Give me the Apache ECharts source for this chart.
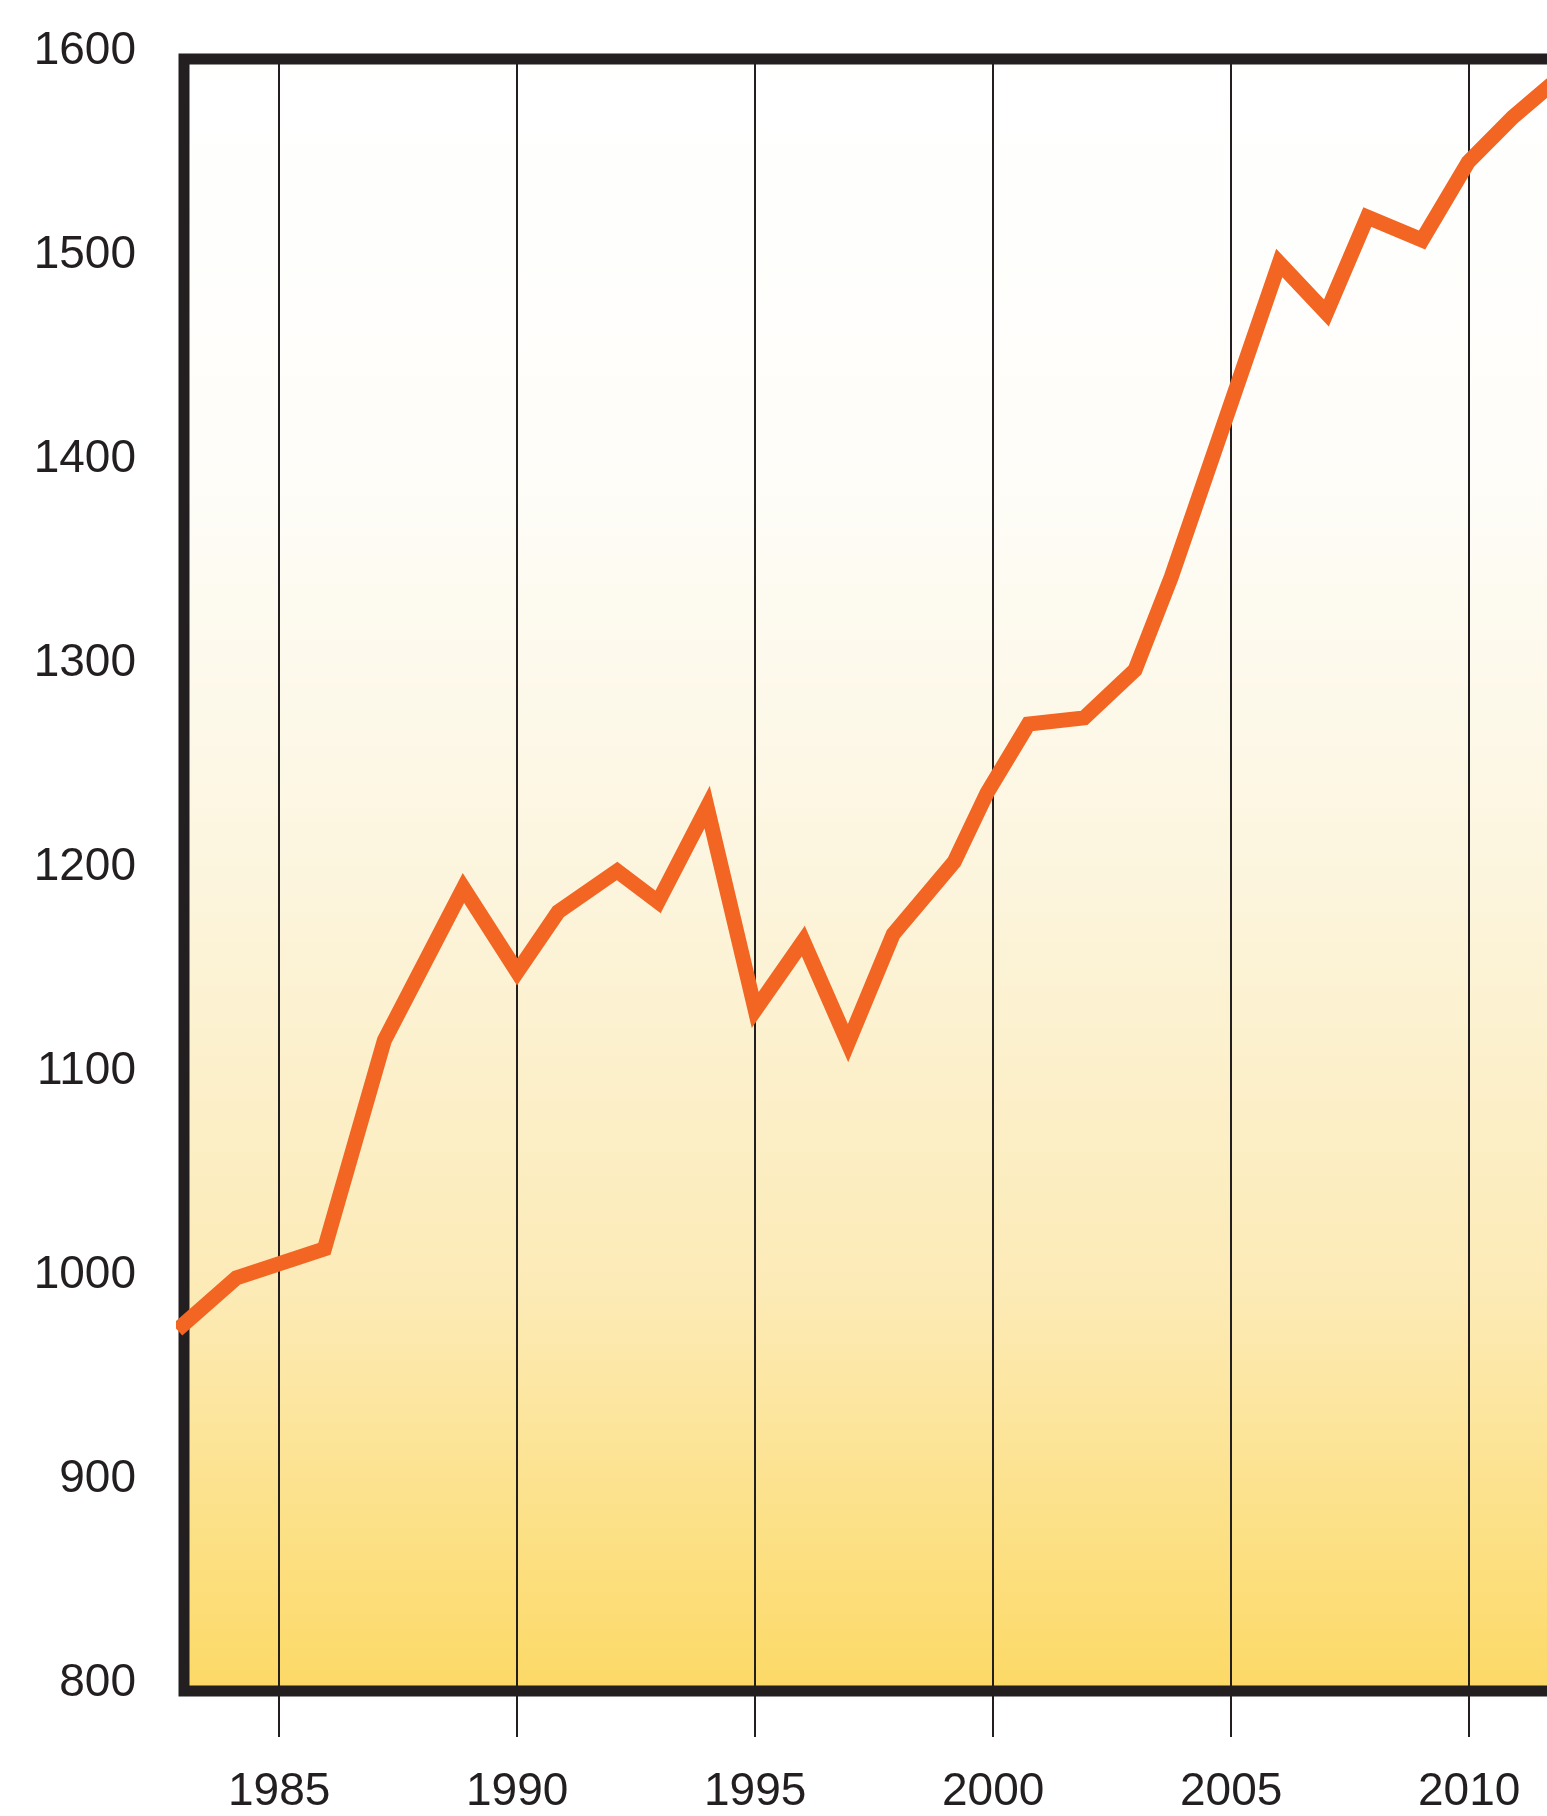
<!DOCTYPE html>
<html>
<head>
<meta charset="utf-8">
<script src="https://cdn.jsdelivr.net/npm/echarts@6/dist/echarts.min.js"></script>
<style>
  html, body { margin: 0; padding: 0; background: #ffffff; overflow: hidden; }
  #chart-c { width: 1700px; height: 1816px; }
</style>
</head>
<body>
<div id="chart-c"></div>
<script>
// years (vertex positions), and values
var years = [1982.86, 1984.1, 1985.95, 1987.21, 1988.87, 1990.0, 1990.86, 1992.1, 1992.96, 1993.99,
             1995.0, 1996.01, 1996.95, 1997.9, 1999.18, 1999.87, 2000.74, 2001.91, 2002.98, 2003.74,
             2006.01, 2007.0, 2007.86, 2009.01, 2009.98, 2010.92, 2012.0];
var values = [977, 1002.5, 1016.7, 1119, 1193.6, 1152.5, 1181.9, 1202, 1186.8, 1233.3,
              1133.8, 1167.6, 1117.6, 1171, 1206.4, 1240.2, 1274, 1277, 1300.5, 1346,
              1500, 1475.5, 1522.5, 1511.3, 1549.5, 1571.6, 1593];
var xTicks = [1985, 1990, 1995, 2000, 2005, 2010];
var yMin = 800, yMax = 1600, yStep = 100;

var dark = '#231f20';
var font = '"Liberation Sans", Arial, Helvetica, sans-serif';

function plain(v) {
    return String(v);
}

// y labels sit a little above their value, so add a short empty line under them
function yLabel(v) {
    return '{n|' + v + '}\n{s| }';
}

function makeChart(c) {
    var points = years.map(function (y, i) { return [y, values[i]]; });

    var option = {
        animation: false,
        grid: {
            show: true,
            left: 184,
            right: 88,
            top: 59,
            bottom: 125,
            borderColor: dark,
            borderWidth: 11,
            backgroundColor: {
                type: 'linear', x: 0, y: 0, x2: 0, y2: 1,
                colorStops: [
                    { offset: 0, color: '#ffffff' },
                    { offset: 0.25, color: '#fefdf9' },
                    { offset: 0.5, color: '#fcf5de' },
                    { offset: 0.75, color: '#fcebb7' },
                    { offset: 1, color: '#fcd965' }
                ]
            }
        },
        xAxis: {
            type: 'value',
            min: 1983,
            max: 2013,
            interval: 5,
            axisLine: { show: false },
            axisTick: {
                show: true,
                customValues: xTicks,
                length: 46,
                lineStyle: { color: dark, width: 2 }
            },
            splitLine: { show: true, lineStyle: { color: dark, width: 2 } },
            axisLabel: {
                customValues: xTicks,
                formatter: plain,
                margin: 78,
                fontSize: 46,
                fontFamily: font,
                color: dark
            }
        },
        yAxis: {
            type: 'value',
            min: yMin,
            max: yMax,
            interval: yStep,
            axisLine: { show: false },
            axisTick: { show: false },
            splitLine: { show: false },
            axisLabel: {
                formatter: yLabel,
                margin: 48,
                color: dark,
                rich: {
                    n: { fontSize: 46, lineHeight: 46, fontFamily: font, color: dark },
                    s: { fontSize: 10, lineHeight: 16 }
                }
            }
        },
        series: [{
            type: 'line',
            data: points,
            symbol: 'none',
            clip: false,
            lineStyle: {
                color: '#f26522',
                width: 15,
                join: 'miter',
                cap: 'butt'
            }
        }]
    };

    var myChart = echarts.init(c);
    myChart.setOption(option);
}

makeChart(document.getElementById('chart-c'));
</script>
</body>
</html>
